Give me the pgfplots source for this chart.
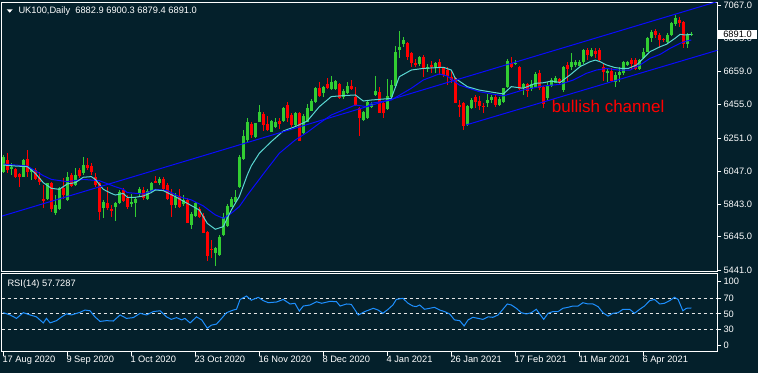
\documentclass[border=0pt]{standalone}
\usepackage{pgfplots}
\pgfplotsset{compat=1.18}
\usepackage{pgfplotstable}
\usepackage{fontspec}
\setmainfont{Liberation Sans}
\definecolor{bg}{RGB}{4,32,43}
\definecolor{bull}{RGB}{50,205,50}
\definecolor{bear}{RGB}{255,0,0}
\definecolor{fastma}{RGB}{90,215,210}
\definecolor{slowma}{RGB}{10,10,255}
\definecolor{rsic}{RGB}{30,144,255}
\pgfplotstableread{
i o h l c
0 6044 6147 6034 6136
1 6116 6157 6034 6055
2 6059 6096 6024 6075
3 6059 6065 6003 6010
4 6028 6034 5952 6014
5 6014 6120 6010 6116
6 6122 6177 6014 6044
7 6044 6065 5993 6059
8 6055 6065 5993 5997
9 6008 6044 5963 5983
10 5874 5963 5819 5866
11 5877 5977 5870 5973
12 5973 5983 5799 5815
13 5793 5901 5778 5840
14 5813 5952 5809 5942
15 5942 6003 5875 5901
16 5870 6044 5866 6014
17 6024 6034 5952 5956
18 5963 6065 5958 6024
19 6055 6065 6003 6018
20 6034 6136 6024 6085
21 6085 6126 6055 6065
22 6079 6096 6024 6044
23 6010 6034 5952 5963
24 5973 5983 5748 5799
25 5819 5870 5758 5860
26 5850 5952 5809 5819
27 5813 5840 5768 5805
28 5830 5860 5744 5854
29 5850 5932 5846 5922
30 5932 5942 5860 5864
31 5885 5901 5813 5826
32 5850 5905 5830 5860
33 5854 5891 5768 5875
34 5907 5948 5891 5938
35 5932 5948 5871 5881
36 5877 5936 5871 5926
37 5926 5983 5922 5973
38 5989 6018 5973 5977
39 5973 6014 5963 5999
40 5999 6010 5928 5936
41 5963 5977 5871 5877
42 5907 5936 5764 5840
43 5840 5911 5820 5891
44 5897 5936 5820 5830
45 5846 5901 5834 5871
46 5871 5881 5727 5731
47 5717 5799 5691 5785
48 5772 5860 5768 5850
49 5813 5830 5758 5768
50 5772 5789 5666 5670
51 5672 5680 5498 5529
52 5570 5625 5513 5564
53 5543 5584 5466 5578
54 5533 5656 5525 5646
55 5656 5789 5650 5764
56 5711 5844 5705 5834
57 5830 5887 5826 5875
58 5860 5932 5850 5887
59 5952 6147 5942 6136
60 6120 6300 6116 6263
61 6239 6372 6229 6351
62 6337 6347 6253 6269
63 6259 6345 6249 6341
64 6351 6453 6347 6408
65 6398 6408 6294 6331
66 6337 6388 6294 6300
67 6290 6361 6286 6355
68 6321 6376 6310 6347
69 6355 6376 6306 6335
70 6355 6443 6349 6437
71 6453 6470 6351 6372
72 6392 6402 6321 6331
73 6331 6412 6327 6402
74 6402 6412 6233 6235
75 6280 6396 6276 6388
76 6351 6458 6347 6433
77 6419 6488 6415 6478
78 6470 6566 6466 6556
79 6556 6593 6503 6511
80 6525 6570 6505 6566
81 6580 6617 6552 6560
82 6552 6633 6546 6597
83 6552 6607 6546 6601
84 6580 6590 6490 6494
85 6505 6552 6490 6539
86 6525 6597 6519 6572
87 6572 6607 6546 6552
88 6505 6566 6449 6453
89 6433 6443 6265 6372
90 6361 6417 6355 6413
91 6372 6478 6370 6470
92 6443 6470 6437 6460
93 6515 6631 6509 6541
94 6535 6566 6402 6406
95 6468 6478 6376 6406
96 6427 6611 6423 6509
97 6505 6607 6501 6576
98 6572 6815 6566 6781
99 6791 6908 6740 6811
100 6828 6869 6811 6852
101 6836 6842 6730 6746
102 6770 6781 6689 6713
103 6709 6734 6689 6699
104 6705 6754 6693 6746
105 6750 6760 6627 6672
106 6678 6705 6658 6689
107 6699 6725 6648 6685
108 6689 6720 6648 6713
109 6719 6734 6638 6689
110 6678 6689 6627 6638
111 6668 6689 6576 6631
112 6623 6668 6586 6607
113 6617 6627 6464 6468
114 6452 6484 6382 6445
115 6464 6474 6300 6325
116 6331 6455 6325 6447
117 6433 6494 6427 6484
118 6500 6515 6433 6474
119 6480 6509 6423 6447
120 6449 6468 6406 6443
121 6468 6521 6443 6484
122 6484 6515 6468 6500
123 6500 6515 6439 6453
124 6453 6500 6447 6488
125 6474 6560 6468 6556
126 6566 6734 6560 6726
127 6713 6746 6678 6689
128 6705 6730 6699 6713
129 6685 6693 6546 6550
130 6556 6586 6515 6582
131 6582 6590 6505 6541
132 6550 6607 6541 6582
133 6566 6658 6562 6644
134 6648 6668 6546 6556
135 6562 6570 6433 6460
136 6494 6597 6484 6576
137 6570 6617 6566 6607
138 6590 6631 6586 6617
139 6611 6621 6580 6586
140 6545 6693 6535 6689
141 6699 6719 6593 6674
142 6689 6770 6668 6715
143 6699 6730 6689 6719
144 6695 6730 6690 6719
145 6715 6795 6705 6791
146 6791 6805 6730 6760
147 6756 6805 6750 6791
148 6787 6801 6740 6764
149 6791 6801 6719 6730
150 6689 6709 6601 6658
151 6648 6678 6593 6664
152 6664 6678 6593 6601
153 6597 6658 6566 6638
154 6638 6689 6597 6658
155 6648 6725 6640 6719
156 6699 6725 6695 6719
157 6729 6744 6668 6703
158 6729 6744 6668 6674
159 6674 6735 6668 6729
160 6740 6805 6735 6781
161 6781 6870 6776 6862
162 6862 6914 6842 6903
163 6907 6920 6862 6883
164 6883 6893 6801 6852
165 6859 6867 6838 6854
166 6842 6893 6835 6883
167 6883 6960 6875 6955
168 6948 7006 6940 6989
169 6975 6995 6934 6955
170 6961 6969 6801 6826
171 6826 6893 6805 6887
172 6882.9 6900.3 6879.4 6891.0
}\candles
\begin{document}
\begin{tikzpicture}[x=1pt,y=1pt,font=\fontsize{9.3}{11}\selectfont]
\useasboundingbox (0,0) rectangle (758,373);
\fill[bg] (0,0) rectangle (758,373);
% ---------------- main price pane
\begin{axis}[
  at={(1.7pt,101.3pt)}, anchor=south west,
  scale only axis, width=715.6pt, height=269.4pt,
  xmin=-0.4, xmax=178.5, ymin=5430.5, ymax=7083.6,
  axis line style={white, line width=1pt},
  xtick=\empty,
  ytick={5441,5645,5843,6047,6251,6455,6659,6863,7067},
  yticklabels={5441.0,5645.0,5843.0,6047.0,6251.0,6455.0,6659.0,6863.0,7067.0},
  ytick pos=right, yticklabel pos=right,
  tick align=outside, major tick length=4pt,
  tick style={white, line width=0.8pt},
  yticklabel style={anchor=west, inner sep=0pt, xshift=2pt, text=white},
]
% wicks
\addplot[draw=none, mark=none, forget plot,
  restrict expr to domain={\thisrow{c}-\thisrow{o}}{0:100000},
  error bars/.cd, y dir=both, y explicit, error mark=none,
  error bar style={draw=bull, solid, line width=1pt}]
  table[x=i, y expr={(\thisrow{h}+\thisrow{l})/2}, y error expr={(\thisrow{h}-\thisrow{l})/2}]{\candles};
\addplot[draw=none, mark=none, forget plot,
  restrict expr to domain={\thisrow{c}-\thisrow{o}}{-100000:0},
  error bars/.cd, y dir=both, y explicit, error mark=none,
  error bar style={draw=bear, solid, line width=1pt}]
  table[x=i, y expr={(\thisrow{h}+\thisrow{l})/2}, y error expr={(\thisrow{h}-\thisrow{l})/2}]{\candles};
% bodies
\addplot[draw=none, mark=none, forget plot,
  restrict expr to domain={\thisrow{c}-\thisrow{o}}{0:100000},
  error bars/.cd, y dir=both, y explicit, error mark=none,
  error bar style={draw=bull, solid, line width=3pt}]
  table[x=i, y expr={(\thisrow{o}+\thisrow{c})/2}, y error expr={max(abs(\thisrow{c}-\thisrow{o})/2,3.5)}]{\candles};
\addplot[draw=none, mark=none, forget plot,
  restrict expr to domain={\thisrow{c}-\thisrow{o}}{-100000:0},
  error bars/.cd, y dir=both, y explicit, error mark=none,
  error bar style={draw=bear, solid, line width=3pt}]
  table[x=i, y expr={(\thisrow{o}+\thisrow{c})/2}, y error expr={max(abs(\thisrow{c}-\thisrow{o})/2,3.5)}]{\candles};
% slow MA
\addplot[slowma, line width=1pt, mark=none] coordinates {
(0,6091) (3,6085) (6,6079) (8,6050) (10,6020) (12,5997) (16,5983) (20,5997) (24,5989) (28,5952) (30,5936) (31,5916) (35,5907) (38,5936) (41,5928) (44,5891) (47,5871) (50,5834) (53,5779) (55,5758) (57,5789) (59,5830) (61,5900) (65,6030) (69,6157) (73,6239) (76,6286) (79,6341) (82,6392) (85,6423) (88,6453) (91,6443) (92,6464) (97,6484) (102,6556) (105,6607) (109,6644) (111,6631) (114,6576) (119,6535) (125,6509) (130,6546) (135,6570) (139.2,6580) (142.5,6607) (145.8,6648) (148.3,6668) (150.8,6678) (153.75,6668) (156.7,6668) (159.2,6699) (161.7,6740) (164.2,6764) (166.7,6801) (169.2,6832) (170.8,6846) (172,6852)};
% fast MA
\addplot[fastma, line width=1pt, mark=none] coordinates {
(0,6085) (3,6079) (6,6075) (8,6034) (10,5977) (12,5942) (14,5936) (16,5969) (18,5977) (20,6010) (22,6014) (23,5997) (25,5936) (27,5911) (28,5901) (30,5911) (31,5887) (33,5887) (35,5895) (37,5916) (38,5932) (40,5928) (43,5891) (46,5850) (49,5809) (51,5727) (53,5691) (55,5707) (57,5809) (59,5891) (61,6024) (62,6080) (64,6157) (67,6229) (70,6294) (73,6321) (76,6355) (79,6443) (82,6505) (85,6511) (88,6515) (90,6478) (92,6484) (97,6494) (99,6627) (102,6668) (105,6678) (110,6685) (112,6668) (113,6617) (116,6566) (119,6545) (125,6521) (127,6566) (130,6556) (133,6586) (135,6590) (137,6600) (139.2,6592) (141.7,6638) (144.2,6689) (146.7,6719) (148,6729) (149.2,6719) (150.8,6699) (152.9,6683) (154.6,6678) (156.25,6678) (158.3,6699) (160,6740) (161.7,6781) (164.2,6811) (165.8,6826) (167.9,6862) (169.2,6887) (170.4,6883) (172,6887)};
% channel lines
\addplot[slowma, line width=1pt, mark=none] coordinates {(-0.3,5772) (178.5,7088)};
\addplot[slowma, line width=1pt, mark=none] coordinates {(115.7,6331) (178.5,6789)};
\node[text=red, font=\fontsize{17}{20}\selectfont, anchor=center] at (axis cs:151.2,6447) {bullish channel};
\end{axis}
% ---------------- RSI pane
\begin{axis}[
  at={(1.7pt,21.3pt)}, anchor=south west,
  scale only axis, width=715.6pt, height=78.4pt,
  xmin=-0.4, xmax=178.5, ymin=0, ymax=103.5,
  axis line style={white, line width=1pt},
  xtick={0,16,32,48,64,80,96,112,128,144,160},
  xticklabels={17 Aug 2020,9 Sep 2020,1 Oct 2020,23 Oct 2020,16 Nov 2020,8 Dec 2020,4 Jan 2021,26 Jan 2021,17 Feb 2021,11 Mar 2021,6 Apr 2021},
  ytick={7.9,30,50,70,92.4},
  yticklabels={0,30,50,70,100},
  xtick pos=bottom, ytick pos=right, yticklabel pos=right,
  tick align=outside, major tick length=4pt,
  tick style={white, line width=0.8pt},
  yticklabel style={anchor=west, inner sep=0pt, xshift=2pt, text=white},
  xticklabel style={anchor=north west, inner sep=0pt, xshift=-1pt, text=white},
]
\addplot[white!80!gray, line width=0.8pt, dash pattern=on 3pt off 3pt] coordinates {(-0.4,70) (178.5,70)};
\addplot[white!80!gray, line width=0.8pt, dash pattern=on 3pt off 3pt] coordinates {(-0.4,50) (178.5,50)};
\addplot[white!80!gray, line width=0.8pt, dash pattern=on 3pt off 3pt] coordinates {(-0.4,30) (178.5,30)};
\addplot[rsic, line width=1pt, mark=none] coordinates {
(0,51.5) (1.7,48.5) (3.3,44) (5,51.5) (6.7,48.5) (8.3,46) (10,38) (10.8,44) (11.7,38) (13.3,41) (14.6,46) (15.8,50) (17,48.5) (19.2,52) (20.4,55) (21.7,54) (22.9,46) (24.2,40) (25.8,41) (27.5,40.5) (29.2,48.5) (30.8,44) (32.5,45) (34.2,50.7) (35.8,48.5) (37.5,53) (39.2,54) (40.8,46) (42,42.7) (43.3,45) (44.6,42) (45.4,44) (46.7,38) (48.3,46) (49.6,42) (51,31) (52,35) (53.3,36.5) (54.6,44) (55.8,51.5) (57.5,55) (58.3,56) (59.2,69) (60.8,73.5) (62,68) (63.75,71.8) (65,67.4) (66.25,64.7) (68.3,65.6) (70,69) (71.7,63) (72.9,63.9) (74,53.7) (75,60.3) (76.7,61.7) (78.3,66) (79.6,63.9) (81.7,66.5) (83.3,66) (84.2,60.3) (85.8,63) (87,62.5) (88.75,48.5) (90.4,53) (92.5,57.3) (93.7,55) (94.9,50.7) (96.2,56) (97.4,61.7) (98.25,69) (99.9,70.5) (101.2,63.9) (102.4,60.3) (103.25,59.5) (104.1,61.7) (105.3,56) (106.6,57.3) (107.8,58.6) (109.1,55) (110.3,53) (111.6,49.8) (112.8,42) (114.1,41) (115.2,34) (116.2,42) (117.4,45.4) (118.7,44) (119.9,42.7) (121.2,46) (122.4,45.4) (123.7,48.5) (124.9,56) (126,63) (127,61.7) (128.25,57.3) (129.5,51.5) (130.75,49.8) (132,51.5) (133.25,56) (134.1,49.8) (135.1,42.7) (136.2,50.7) (137.4,53) (138.7,53) (139.9,57.3) (141.2,58.6) (142.4,60.3) (143.7,60.3) (144.9,64.7) (146.2,63) (147.4,63) (148.7,59.5) (149.9,51.5) (151.2,47) (152.4,50.7) (153.7,51.5) (154.9,56) (156.6,56) (157.8,50.7) (159.1,56) (160.3,60.3) (161.6,67.4) (162.8,69) (164.1,63) (165.3,63.9) (166.6,67.4) (167.8,71.8) (168.7,69) (169.9,54) (170.75,57.3) (172,57.7)};
\end{axis}
% ---------------- labels
\fill[white] (6.7,363.7) -- (12.7,363.7) -- (9.7,360.3) -- cycle;
\node[anchor=west, inner sep=0pt, text=white] at (18.3,362) {UK100,Daily\ \ 6882.9 6900.3 6879.4 6891.0};
\node[anchor=west, inner sep=0pt, text=white] at (7.3,89) {RSI(14) 57.7287};
\fill[white] (718.3,333.7) rectangle (756.7,343);
\node[anchor=center, inner sep=0pt, text=black] at (737.5,338.3) {6891.0};
\end{tikzpicture}
\end{document}
